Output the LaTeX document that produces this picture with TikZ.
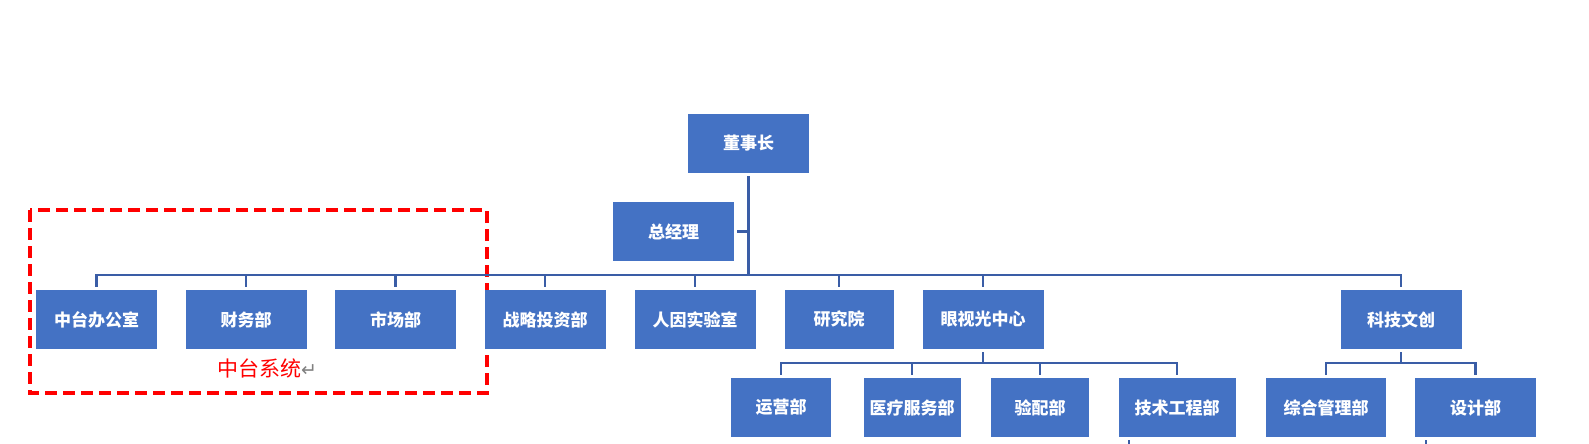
\documentclass[tikz,border=0pt]{standalone}
\usepackage{fontspec}
\setmainfont{Liberation Sans}
\newfontfamily\cjk{Noto Sans CJK SC}
\newfontfamily\symb{DejaVu Sans}
\definecolor{boxblue}{HTML}{4472C4}
\definecolor{lineblue}{HTML}{3A5DA6}
\tikzset{
  box/.style={fill=boxblue,minimum width=121pt,minimum height=59pt,inner sep=0pt,
    text=white,font=\cjk\bfseries\fontsize{17}{19}\selectfont},
  conn/.style={draw=lineblue,line width=2.4pt}
}
\begin{document}
\begin{tikzpicture}[x=1pt,y=-1pt]
\useasboundingbox (0,0) rectangle (1589,444);
\draw[red,line width=3.2pt,dash pattern=on 12pt off 6pt](30,210) rectangle (487,393);
\node[anchor=west,inner sep=0pt,text=red,font=\cjk\fontsize{21}{23}\selectfont] (ztxt) at (217,368) {中台系统{\color{gray}\symb\fontsize{19}{20}\selectfont ↵}};
\node[box] (dsz) at (748.5,143.5) {董事长};
\node[box] (zjl) at (673.5,231.5) {总经理};
\node[box] (zt) at (96.5,319.5) {中台办公室};
\node[box] (cw) at (246,319.5) {财务部};
\node[box] (sc) at (395.5,319.5) {市场部};
\node[box] (zl) at (545,319.5) {战略投资部};
\node[box] (ry) at (695,319.5) {人因实验室};
\node[box,minimum width=109pt] (yjy) at (839,319.5) {研究院};
\node[box] (ysg) at (983,319.5) {眼视光中心};
\node[box] (kj) at (1401,319.5) {科技文创};
\node[box,minimum width=100pt] (yy) at (781,407.5) {运营部};
\node[box,minimum width=97pt] (yl) at (912,407.5) {医疗服务部};
\node[box,minimum width=98pt] (yp) at (1040,407.5) {验配部};
\node[box,minimum width=117pt] (js) at (1177,407.5) {技术工程部};
\node[box,minimum width=120pt] (zh) at (1326,407.5) {综合管理部};
\node[box] (sj) at (1475.5,407.5) {设计部};
\coordinate (bar) at (0,275);
\coordinate (bar2) at (0,363);
\coordinate (e1) at (1129,444);
\coordinate (e2) at (1426,444);
\draw[conn,line width=3pt]([yshift=-3pt]dsz.south)--(dsz.south |- bar);
\draw[conn]([xshift=3pt]zjl.east)--(zjl.east -| dsz.south);
\draw[conn]([yshift=3pt]zt.north)--(zt.north |- bar)--(kj.north |- bar)--([yshift=3pt]kj.north);
\draw[conn](cw.north |- bar)--([yshift=3pt]cw.north);
\draw[conn](sc.north |- bar)--([yshift=3pt]sc.north);
\draw[conn](zl.north |- bar)--([yshift=3pt]zl.north);
\draw[conn](ry.north |- bar)--([yshift=3pt]ry.north);
\draw[conn](yjy.north |- bar)--([yshift=3pt]yjy.north);
\draw[conn](ysg.north |- bar)--([yshift=3pt]ysg.north);
\draw[conn]([yshift=-3pt]ysg.south)--(ysg.south |- bar2);
\draw[conn]([yshift=3pt]yy.north)--(yy.north |- bar2)--(js.north |- bar2)--([yshift=3pt]js.north);
\draw[conn](yl.north |- bar2)--([yshift=3pt]yl.north);
\draw[conn](yp.north |- bar2)--([yshift=3pt]yp.north);
\draw[conn]([yshift=-3pt]kj.south)--(kj.south |- bar2);
\draw[conn]([yshift=3pt]zh.north)--(zh.north |- bar2)--(sj.north |- bar2)--([yshift=3pt]sj.north);
\draw[conn]([yshift=-3pt]js.south -| e1)--(e1);
\draw[conn]([yshift=-3pt]sj.south -| e2)--(e2);
\end{tikzpicture}
\end{document}
